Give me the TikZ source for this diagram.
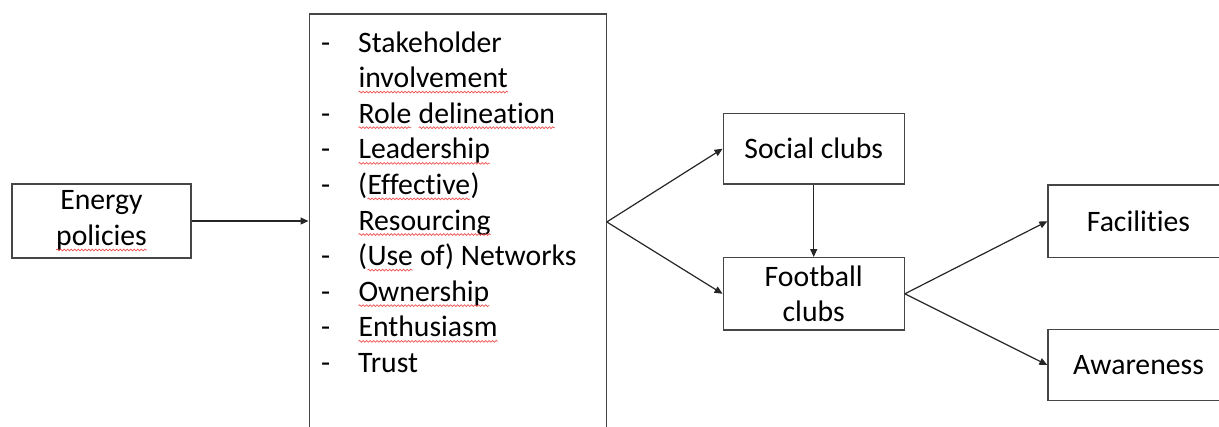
\documentclass[tikz,border=0pt]{standalone}
\usepackage{fontspec}
\setmainfont{Carlito}[Ligatures=NoCommon]
\usetikzlibrary{arrows.meta,decorations.pathmorphing}
\definecolor{squig}{RGB}{238,80,80}
\definecolor{edge}{RGB}{70,70,70}
\newcommand\sq[1]{\tikz[baseline=(sqw.base)]{\node[draw=none,inner sep=0pt,outer sep=0pt,minimum width=0pt,minimum height=0pt,align=none,anchor=center](sqw){#1};\draw[squig,line width=0.7pt,decorate,decoration={snake,amplitude=0.9pt,segment length=3.5pt}]([yshift=-4.5pt]sqw.base west)--([yshift=-4.5pt]sqw.base east);}}
\tikzset{
  box/.style={draw=edge,line width=1.3pt,minimum width=181pt,inner sep=0pt,align=center,font=\fontsize{29.7}{35.6}\selectfont},
  conn/.style={line width=1.2pt,draw=black!85,-{Triangle[length=8pt,width=7pt]}},
}
\begin{document}
\begin{tikzpicture}[x=1pt,y=-1pt]
\useasboundingbox (0,0) rectangle (1219,426);
\clip (0,0) rectangle (1219,426);
\node[box,minimum width=179pt,minimum height=74pt] (energy) at (101.5,221) {Energy\\\sq{policies}};
\node[draw=edge,line width=1.3pt,minimum width=297pt,minimum height=416pt,anchor=north west,inner sep=0pt] (big) at (308.5,13.3) {};
\node[anchor=base west,inner sep=0pt,font=\fontsize{29.7}{35.6}\selectfont] (list) at (321,52) {%
\begin{tabular}[t]{@{}p{37pt}@{}l@{}}
-& Stakeholder\\
 & \sq{involvement}\\
-& \sq{Role} \sq{delineation}\\
-& \sq{Leadership}\\
-& (\sq{Effective})\\
 & \sq{Resourcing}\\
-& (\sq{Use} of) Networks\\
-& \sq{Ownership}\\
-& \sq{Enthusiasm}\\
-& Trust
\end{tabular}};
\node[box,minimum height=70.7pt] (social) at (813.7,148.7) {Social clubs};
\node[box,minimum height=72.3pt] (football) at (813.7,293.8) {Football\\clubs};
\node[box,minimum height=72.3pt] (facilities) at (1138.5,221.2) {Facilities};
\node[box,minimum height=71.4pt] (awareness) at (1138.5,365) {Awareness};
\draw[conn] (energy.east) -- (energy.east -| big.west);
\draw[conn] (big.east) -- (social.west);
\draw[conn] (big.east) -- (football.west);
\draw[conn] (social.south) -- (football.north);
\draw[conn] (football.east) -- (facilities.west);
\draw[conn] (football.east) -- (awareness.west);
\end{tikzpicture}
\end{document}
